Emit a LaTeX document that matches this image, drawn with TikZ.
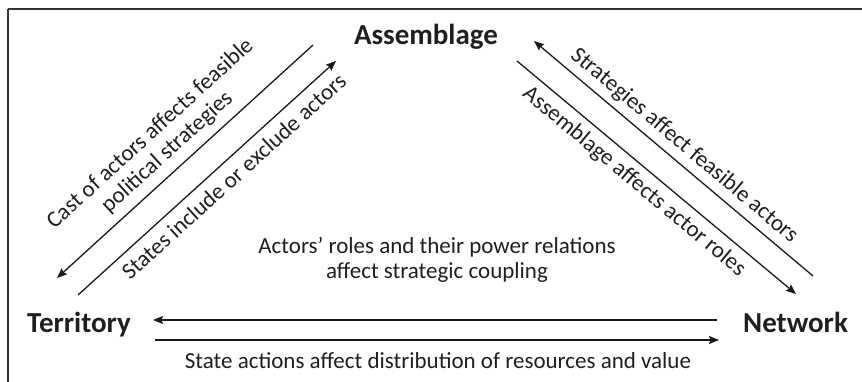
\documentclass[tikz,border=0pt]{standalone}
\usepackage{fontspec}
\setmainfont{Carlito}
\usetikzlibrary{arrows.meta}
\begin{document}
\begin{tikzpicture}[x=1pt,y=-1pt,
  link/.style={line width=1.3pt, draw=black!90},
  tip/.style={link,-{Stealth[length=10pt,width=8pt,inset=1.5pt]}},
  corner/.style={font=\bfseries\fontsize{29}{32}\selectfont, inner sep=0pt, text=black!88},
  note/.style={font=\fontsize{23}{25}\selectfont, inner sep=0pt, align=center, text=black!88},
  frame/.style={line width=1.5pt, draw=black!80}]
  \useasboundingbox (0,0) rectangle (862,382);
  % outer frame (runs past the right and bottom edges)
  \draw[frame] (8,9) -- (880,9) (8,9) -- (8,400);

  % the three corners
  \node[corner, anchor=base] (asm) at (426,45) {Assemblage};
  \node[corner, anchor=base west] (ter) at (27,332) {Territory};
  \node[corner, anchor=base west] (net) at (743,332) {Network};

  % end points of the diagonal connectors
  \coordinate (lo1) at (313,45);  \coordinate (lo2) at (57,278);
  \coordinate (li1) at (78,295);  \coordinate (li2) at (336,61);
  \coordinate (ro1) at (813,276); \coordinate (ro2) at (534,41);
  \coordinate (ri1) at (517,61);  \coordinate (ri2) at (796,294);
  % end points of the horizontal connectors
  \coordinate (hu1) at (717,320); \coordinate (hu2) at (153,320);
  \coordinate (hl1) at (155,340); \coordinate (hl2) at (719,340);

  % Assemblage -> Territory
  \draw[tip] (lo1) -- node[note, sloped, above=8pt, pos=0.52] (lbl1)
    {Cast of actors affects feasible\\political strategies} (lo2);
  % Territory -> Assemblage
  \draw[tip] (li1) -- node[note, sloped, below=8pt, pos=0.56] (lbl2)
    {States include or exclude actors} (li2);
  % Network -> Assemblage
  \draw[tip] (ro1) -- node[note, sloped, above=6pt] (lbl3)
    {Strategies affect feasible actors} (ro2);
  % Assemblage -> Network
  \draw[tip] (ri1) -- node[note, sloped, below=7pt, pos=0.46] (lbl4)
    {Assemblage affects actor roles} (ri2);

  % Network -> Territory
  \draw[tip] (hu1) -- (hu2);
  \node[note, anchor=base] (lbl5) at (437,278)
    {Actors’ roles and their power relations\\affect strategic coupling};
  % Territory -> Network
  \draw[tip] (hl1) -- (hl2);
  \node[note, anchor=base] (lbl6) at (438,368)
    {State actions affect distribution of resources and value};
\end{tikzpicture}
\end{document}
